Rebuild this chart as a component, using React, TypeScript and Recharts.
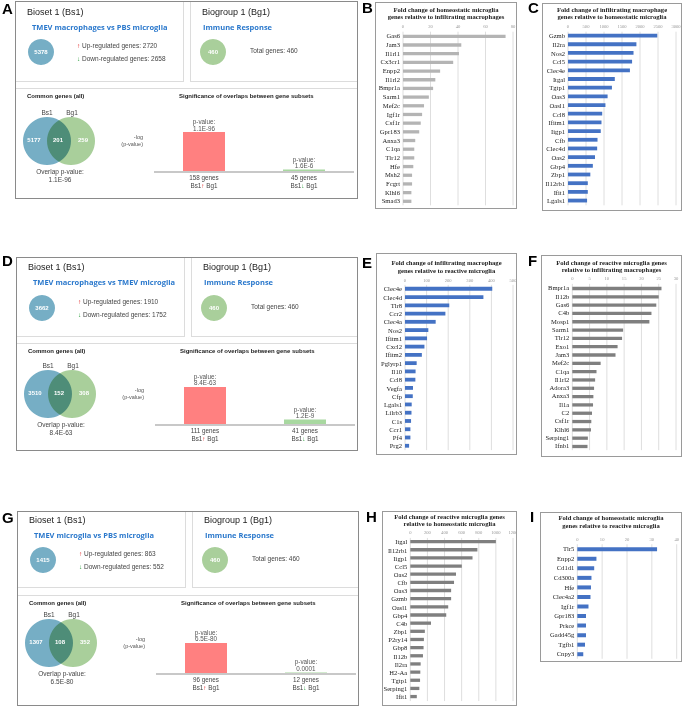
import React from 'react';
import { BarChart, Bar, XAxis, YAxis, CartesianGrid, Cell, LabelList, PieChart, Pie } from 'recharts';

const SANS = '"Liberation Sans", Arial, sans-serif';
const SERIF = '"Liberation Serif", "Times New Roman", serif';
const HEAD = '"Open Sans", "Liberation Sans", sans-serif';

// B: homeostatic microglia genes relative to infiltrating macrophages
const genesB = ['Gas6', 'Jam3', 'Il1rl1', 'Cx3cr1', 'Enpp2', 'Il1rl2', 'Bmpr1a', 'Sarm1', 'Mef2c', 'Igf1r', 'Csf1r', 'Gpr183', 'Anxa3', 'C1qa', 'Tlr12', 'Hfe', 'Msh2', 'Fcgrt', 'Klhl6', 'Smad3'];
const foldB = [74.6, 42.4, 40.7, 36.5, 27, 23.5, 21.9, 18.8, 15.3, 13.9, 12.9, 11.8, 8.9, 8.2, 8.2, 7.5, 6.6, 6.6, 6.1, 6.1];
const ticksB = [0, 20, 40, 60, 80];

// C: infiltrating macrophage genes relative to homeostatic microglia
const genesC = ['Gzmb', 'Il2ra', 'Nos2', 'Ccl5', 'Clec4e', 'Itgal', 'Tgtp1', 'Oas3', 'Oasl1', 'Ccl8', 'Ifitm1', 'Iigp1', 'Cfb', 'Clec4d', 'Oas2', 'Gbp4', 'Zbp1', 'Il12rb1', 'Ifit1', 'Lgals1'];
const foldC = [2480, 1900, 1820, 1780, 1720, 1300, 1220, 1100, 1040, 950, 930, 910, 820, 810, 750, 690, 620, 550, 550, 530];
const ticksC = [0, 500, 1000, 1500, 2000, 2500, 3000];

// E: infiltrating macrophage genes relative to reactive microglia
const genesE = ['Clec4e', 'Clec4d', 'Tlr8', 'Ccr2', 'Clec4a', 'Nos2', 'Ifitm1', 'Cxcl2', 'Ifitm2', 'Pglyrp1', 'Il10', 'Ccl8', 'Vegfa', 'Cfp', 'Lgals1', 'Lilrb3', 'C1s', 'Ccr1', 'Pf4', 'Prg2'];
const foldE = [404, 363, 205, 187, 142, 108, 102, 90, 78, 54, 49, 48, 37, 36, 31, 30, 28, 25, 25, 19];
const ticksE = [0, 100, 200, 300, 400, 500];

// F: reactive microglia genes relative to infiltrating macrophages
const genesF = ['Bmpr1a', 'Il12b', 'Gas6', 'C4b', 'Mosp1', 'Sarm1', 'Tlr12', 'Exo1', 'Jam3', 'Mef2c', 'C1qa', 'Il1rl2', 'Adora3', 'Anxa3', 'Il1a', 'C2', 'Csf1r', 'Klhl6', 'Serping1', 'Ifnb1'];
const foldF = [25.8, 25, 24.3, 22.9, 22.3, 14.7, 14.4, 13.1, 12.5, 8.2, 7, 6.6, 6.3, 6.1, 6, 5.7, 5.5, 5.4, 4.5, 4.4];
const ticksF = [0, 5, 10, 15, 20, 25, 30];

// H: reactive microglia genes relative to homeostatic microglia
const genesH = ['Itgal', 'Il12rb1', 'Iigp1', 'Ccl5', 'Oas2', 'Cfb', 'Oas3', 'Gzmb', 'Oasl1', 'Gbp4', 'C4b', 'Zbp1', 'P2ry14', 'Gbp8', 'Il12b', 'Il2ra', 'H2-Aa', 'Tgtp1', 'Serping1', 'Ifit1'];
const foldH = [1000, 784, 727, 602, 534, 511, 477, 477, 443, 420, 242, 170, 159, 155, 148, 121, 117, 114, 106, 76];
const ticksH = [0, 200, 400, 600, 800, 1000, 1200];

// I: homeostatic microglia genes relative to reactive microglia
const genesI = ['Tlr5', 'Enpp2', 'Cd1d1', 'Cd300a', 'Hfe', 'Clec4a2', 'Igf1r', 'Gpr183', 'Prkce', 'Gadd45g', 'Tgfb1', 'Cnpy3'];
const foldI = [32.1, 7.7, 6.8, 5.7, 5.5, 5.3, 4.5, 3.5, 3.5, 3.5, 3.1, 2.4];
const ticksI = [0, 10, 20, 30, 40];

// A / D / G overlap dashboards
const biosetTitles = ['TMEV macrophages vs PBS microglia', 'TMEV macrophages vs TMEV microglia', 'TMEV microglia vs PBS microglia'];
const biosetTotals = [5378, 3662, 1415];
const upGenes = [2720, 1910, 863];
const downGenes = [2658, 1752, 552];
const biogroupTotal = 460;
const vennBs1Only = [5177, 3510, 1307];
const vennBoth = [201, 152, 108];
const vennBg1Only = [259, 308, 352];
const overlapP = ['1.1E-96', '8.4E-63', '6.5E-80'];
const upOverlapGenes = [158, 111, 96];
const downOverlapGenes = [45, 41, 12];
const upOverlapP = ['1.1E-96', '8.4E-63', '6.5E-80'];
const downOverlapP = ['1.6E-6', '1.2E-9', '0.0001'];

const BLUE_C = '#76aec5';
const GREEN_C = '#a9cf9b';
const RED_BAR = '#ff8080';
const GREEN_BAR = '#a8d8a0';
const BAR_BLUE = '#4472c4';

function Txt({ x, y, fs, children, color = '#333', weight = 400, family = SANS, align = 'left' }: any) {
  const style: React.CSSProperties = {
    position: 'absolute', top: y - fs * 0.6, fontSize: fs, lineHeight: `${fs * 1.2}px`,
    color, fontWeight: weight, fontFamily: family, whiteSpace: 'nowrap',
  };
  if (align === 'left') style.left = x;
  if (align === 'center') { style.left = x; style.transform = 'translateX(-50%)'; }
  if (align === 'right') style.right = 685 - x;
  return <div style={style}>{children}</div>;
}

function Letter({ x, y, ch }: any) {
  return <div style={{ position: 'absolute', left: x, top: y - 1, fontSize: 15, lineHeight: '15px', fontWeight: 700, fontFamily: SANS, color: '#000' }}>{ch}</div>;
}

function Disc({ r, color }: any) {
  return (
    <PieChart width={2 * r} height={2 * r} margin={{ top: 0, right: 0, bottom: 0, left: 0 }}>
      <Pie data={[{ v: 1 }]} dataKey="v" cx={r} cy={r} innerRadius={0} outerRadius={r} stroke="none" fill={color} isAnimationActive={false} />
    </PieChart>
  );
}

function Badge({ cx, cy, r, color, label }: any) {
  return (
    <div style={{ position: 'absolute', left: cx - r, top: cy - r, width: 2 * r, height: 2 * r }}>
      <Disc r={r} color={color} />
      <div style={{ position: 'absolute', inset: 0, display: 'flex', alignItems: 'center', justifyContent: 'center', color: '#fff', fontSize: 6, fontWeight: 700, fontFamily: SANS }}>{label}</div>
    </div>
  );
}

function Venn({ x1, x2, cy, r }: any) {
  return (
    <>
      <div style={{ position: 'absolute', left: x2 - r, top: cy - r }}><Disc r={r} color={GREEN_C} /></div>
      <div style={{ position: 'absolute', left: x1 - r, top: cy - r, mixBlendMode: 'multiply' }}><Disc r={r} color={BLUE_C} /></div>
    </>
  );
}

const PLabel = (props: any) => {
  const { x, y, width, value } = props;
  const cx = Number(x) + Number(width) / 2;
  return (
    <g fontFamily={SANS} fontSize={6.3} fill="#555" textAnchor="middle">
      <text x={cx} y={Number(y) - 8}>p-value:</text>
      <text x={cx} y={Number(y) - 1.5}>{value}</text>
    </g>
  );
};

const SigTick = (props: any) => {
  const { x, y, payload, rows } = props;
  const row = rows.find((r: any) => r.key === payload.value);
  return (
    <g fontFamily={SANS} fontSize={6.3} fill="#444" textAnchor="middle">
      <text x={x} y={y + 8}>{row.genes} genes</text>
      <text x={x} y={y + 16}>
        <tspan>Bs1</tspan>
        <tspan fill={row.key === 'up' ? '#e02020' : '#30a040'}>{row.key === 'up' ? '↑' : '↓'}</tspan>
        <tspan> Bg1</tspan>
      </text>
    </g>
  );
};

function SigChart({ left, baseline, rows, max }: any) {
  const plotH = 60, topM = 16, axisH = 22;
  return (
    <div style={{ position: 'absolute', left, top: baseline - plotH - topM }}>
      <BarChart width={204} height={plotH + topM + axisH} data={rows} margin={{ top: topM, right: 4, bottom: 0, left: 0 }} barCategoryGap={0}>
        <XAxis dataKey="key" axisLine={{ stroke: '#c8c8c8', strokeWidth: 2 }} tickLine={false} tickSize={0} tickMargin={0}
          height={axisH} interval={0} tick={(p: any) => <SigTick {...p} rows={rows} />} />
        <YAxis hide domain={[0, max]} />
        <Bar dataKey="nlp" barSize={42} isAnimationActive={false}>
          {rows.map((r: any, i: number) => <Cell key={i} fill={r.key === 'up' ? RED_BAR : GREEN_BAR} />)}
          <LabelList dataKey="p" content={PLabel} />
        </Bar>
      </BarChart>
    </div>
  );
}

const dashLayouts = [
  { left: 15, top: 1, w: 343, h: 198, topH: 81, botY: 87, dv: 0, sigMax: 144 },
  { left: 16, top: 257, w: 342, h: 194, topH: 80, botY: 86, dv: -3, sigMax: 98 },
  { left: 17, top: 511, w: 342, h: 195, topH: 77, botY: 84, dv: -8, sigMax: 153 },
];

function Dashboard({ i }: { i: number }) {
  const L = dashLayouts[i];
  const X = (x: number) => L.left + x;
  const Y = (y: number) => L.top + y;
  const dt = (L.topH - 81) / 2;
  const db = L.botY - 87;
  const dv = L.dv;
  const rows = [
    { key: 'up', nlp: -Math.log10(parseFloat(upOverlapP[i])), p: upOverlapP[i], genes: upOverlapGenes[i] },
    { key: 'down', nlp: -Math.log10(parseFloat(downOverlapP[i])), p: downOverlapP[i], genes: downOverlapGenes[i] },
  ];
  const thin = '1px solid #dcdcdc';
  return (
    <>
      <div style={{ position: 'absolute', left: L.left, top: L.top, width: L.w, height: L.h, border: '1.5px solid #8a8a8a', boxSizing: 'border-box' }} />
      <div style={{ position: 'absolute', left: X(1), top: Y(1), width: 168, height: L.topH - 1, borderRight: thin, borderBottom: thin, boxSizing: 'border-box' }} />
      <div style={{ position: 'absolute', left: X(175), top: Y(1), width: L.w - 176, height: L.topH - 1, borderLeft: thin, borderBottom: thin, boxSizing: 'border-box' }} />
      <div style={{ position: 'absolute', left: X(1), top: Y(L.botY), width: L.w - 2, height: 1, borderTop: thin }} />

      <Txt x={X(12)} y={Y(11 + dt)} fs={9} color="#222">Bioset 1 (Bs1)</Txt>
      <Txt x={X(17)} y={Y(26 + dt)} fs={7.5} color="#2a78cc" weight={700} family={HEAD}>{biosetTitles[i]}</Txt>
      <Badge cx={X(26)} cy={Y(51 + dt)} r={13} color={BLUE_C} label={biosetTotals[i]} />
      <Txt x={X(62)} y={Y(45 + dt)} fs={6.5} color="#444"><span style={{ color: '#e02020' }}>↑</span> Up-regulated genes: {upGenes[i]}</Txt>
      <Txt x={X(62)} y={Y(58 + dt)} fs={6.5} color="#444"><span style={{ color: '#30a040' }}>↓</span> Down-regulated genes: {downGenes[i]}</Txt>

      <Txt x={X(187)} y={Y(11 + dt)} fs={9} color="#222">Biogroup 1 (Bg1)</Txt>
      <Txt x={X(188)} y={Y(26 + dt)} fs={7.5} color="#2a78cc" weight={700} family={HEAD}>Immune Response</Txt>
      <Badge cx={X(198)} cy={Y(51 + dt)} r={13} color={GREEN_C} label={biogroupTotal} />
      <Txt x={X(235)} y={Y(50 + dt)} fs={6.5} color="#444">Total genes: {biogroupTotal}</Txt>

      <Txt x={X(12)} y={Y(96 + db)} fs={6} color="#222" weight={700}>Common genes (all)</Txt>
      <Txt x={X(164)} y={Y(96 + db)} fs={6} color="#222" weight={700}>Significance of overlaps between gene subsets</Txt>

      <Venn x1={X(32)} x2={X(55.5)} cy={Y(140 + dv)} r={24} />
      <Txt x={X(32)} y={Y(112 + dv)} fs={6.5} color="#444" align="center">Bs1</Txt>
      <Txt x={X(57)} y={Y(112 + dv)} fs={6.5} color="#444" align="center">Bg1</Txt>
      <Txt x={X(19)} y={Y(140 + dv)} fs={6} color="#fff" weight={700} align="center">{vennBs1Only[i]}</Txt>
      <Txt x={X(43)} y={Y(140 + dv)} fs={6} color="#fff" weight={700} align="center">{vennBoth[i]}</Txt>
      <Txt x={X(68)} y={Y(140 + dv)} fs={6} color="#fff" weight={700} align="center">{vennBg1Only[i]}</Txt>
      <Txt x={X(45)} y={Y(171 + dv)} fs={6.5} color="#444" align="center">Overlap p-value:</Txt>
      <Txt x={X(45)} y={Y(179 + dv)} fs={6.5} color="#444" align="center">{overlapP[i]}</Txt>

      <Txt x={X(128)} y={Y(136 + dv)} fs={5.5} color="#555" align="right">-log</Txt>
      <Txt x={X(128)} y={Y(143 + dv)} fs={5.5} color="#555" align="right">(p-value)</Txt>
      <SigChart left={X(139)} baseline={Y(171 + dv)} rows={rows} max={L.sigMax} />
    </>
  );
}

function FoldChart({ box, plot, rows, tickY, titleY, title, genes, values, ticks, color, barSize }: any) {
  const [bl, bt, br, bb] = box;
  const width = br - bl;
  const height = bb - bt;
  const band = (rows[1] - rows[0]) / (genes.length - 1);
  const plotTop = rows[0] - band / 2 - bt;
  const plotBottom = rows[1] + band / 2 - bt;
  const xAxisH = 10;
  const data = genes.map((g: string, k: number) => ({ gene: g, v: values[k] }));
  const tickMargin = Math.max(0, plotTop - (tickY - bt + 2));
  return (
    <>
      <div style={{ position: 'absolute', left: bl, top: bt, width, height, border: '1px solid #9a9a9a', boxSizing: 'border-box', background: '#fff' }} />
      <Txt x={(bl + br) / 2} y={titleY[0]} fs={6.6} color="#222" weight={700} family={SERIF} align="center">{title[0]}</Txt>
      <Txt x={(bl + br) / 2} y={titleY[1]} fs={6.6} color="#222" weight={700} family={SERIF} align="center">{title[1]}</Txt>
      <div style={{ position: 'absolute', left: bl, top: bt }}>
        <BarChart layout="vertical" width={width} height={height} data={data}
          margin={{ top: plotTop - xAxisH, bottom: height - plotBottom, left: 0, right: width - (plot[1] - bl) }}>
          <CartesianGrid horizontal={false} stroke="#dedede" />
          <XAxis type="number" orientation="top" domain={[ticks[0], ticks[ticks.length - 1]]} ticks={ticks} interval={0}
            height={xAxisH} axisLine={false} tickLine={false} tickSize={0} tickMargin={tickMargin}
            tick={{ fontSize: 4.6, fill: '#999', fontFamily: SERIF }} />
          <YAxis type="category" dataKey="gene" width={plot[0] - bl} interval={0} axisLine={false} tickLine={false}
            tickSize={0} tickMargin={3} tick={{ fontSize: 6.6, fill: '#222', fontFamily: SERIF }} />
          <Bar dataKey="v" fill={color} barSize={barSize} isAnimationActive={false} />
        </BarChart>
      </div>
    </>
  );
}

export default function App() {
  return (
    <div style={{ position: 'absolute', left: 0, top: 0, width: 685, height: 707, background: '#fff', overflow: 'hidden' }}>
      <Dashboard i={0} />
      <Dashboard i={1} />
      <Dashboard i={2} />

      <FoldChart box={[375, 2, 517, 209]} plot={[403, 513]} rows={[36, 201]} tickY={26} titleY={[10, 17]}
        title={['Fold change of homeostatic microglia', 'genes relative to infiltrating macrophages']}
        genes={genesB} values={foldB} ticks={ticksB} color="#b4b4b4" barSize={3.3} />
      <FoldChart box={[542, 3, 682, 211]} plot={[568, 676]} rows={[36, 201]} tickY={26} titleY={[10, 17]}
        title={['Fold change of infiltrating macrophage', 'genes relative to homeostatic microglia']}
        genes={genesC} values={foldC} ticks={ticksC} color={BAR_BLUE} barSize={3.8} />
      <FoldChart box={[376, 253, 517, 455]} plot={[405, 513]} rows={[289, 446]} tickY={280} titleY={[263, 271]}
        title={['Fold change of infiltrating macrophage', 'genes relative to reactive microglia']}
        genes={genesE} values={foldE} ticks={ticksE} color={BAR_BLUE} barSize={3.8} />
      <FoldChart box={[541, 255, 682, 457]} plot={[572.3, 676]} rows={[288, 446]} tickY={278} titleY={[263, 270]}
        title={['Fold change of  reactive microglia genes', 'relative to infiltrating  macrophages']}
        genes={genesF} values={foldF} ticks={ticksF} color="#7f7f7f" barSize={3.3} />
      <FoldChart box={[382, 511, 517, 706]} plot={[410.3, 513]} rows={[542, 697]} tickY={532} titleY={[517, 524]}
        title={['Fold change of reactive microglia genes', 'relative to homeostatic microglia']}
        genes={genesH} values={foldH} ticks={ticksH} color="#7f7f7f" barSize={3.3} />
      <FoldChart box={[540, 512, 682, 662]} plot={[577.3, 676.7]} rows={[549, 654]} tickY={539} titleY={[518, 526]}
        title={['Fold change of homeostatic microglia', 'genes relative to reactive microglia']}
        genes={genesI} values={foldI} ticks={ticksI} color={BAR_BLUE} barSize={4} />

      <Letter x={2} y={2} ch="A" />
      <Letter x={362} y={1} ch="B" />
      <Letter x={528} y={1} ch="C" />
      <Letter x={2} y={254} ch="D" />
      <Letter x={362} y={256} ch="E" />
      <Letter x={528} y={254} ch="F" />
      <Letter x={2} y={511} ch="G" />
      <Letter x={366} y={510} ch="H" />
      <Letter x={530} y={510} ch="I" />
    </div>
  );
}
